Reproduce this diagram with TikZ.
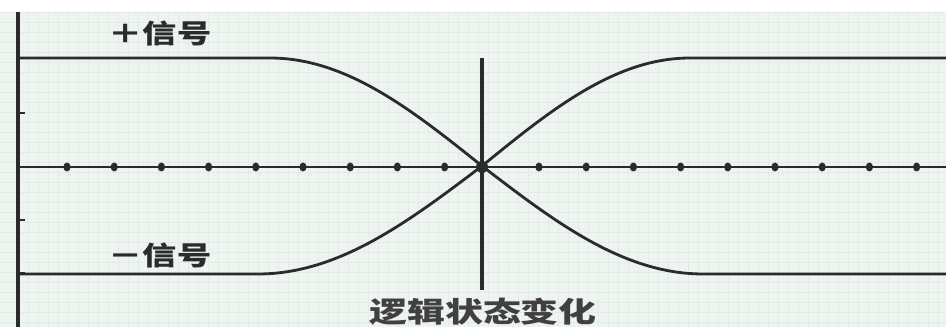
\documentclass[tikz,border=0pt]{standalone}
\usepackage{fontspec}
\newfontfamily\cjk{Noto Sans CJK SC}
\definecolor{bg}{HTML}{EEF4F0}
\definecolor{gridc}{HTML}{E2EBE5}
\definecolor{ink}{HTML}{2B2B2B}
\begin{document}
\begin{tikzpicture}[x=0.02cm,y=-0.02cm,
  curve/.style={ink,line width=1.6pt,line join=round},
  axisline/.style={ink,line width=1.7pt},
  tickdot/.style={ink},
  lbl/.style={font=\cjk\bfseries\fontsize{15}{15}\selectfont,text=ink,xscale=1.3,inner sep=0pt},
  captext/.style={font=\cjk\bfseries\fontsize{16}{16}\selectfont,text=ink!90,xscale=1.35,inner sep=0pt}]
\useasboundingbox (0,0) rectangle (946,327);
% background paper
\fill[white] (0,0) rectangle (946,327);
\fill[bg] (0,12) rectangle (946,327);
\foreach \gx in {18,28,...,946} \draw[gridc,line width=0.25pt] (\gx,12) -- (\gx,327);
\foreach \gy in {12,22,...,327} \draw[gridc,line width=0.25pt] (0,\gy) -- (946,\gy);
% left axis
\draw[axisline,line width=2pt] (18,12) -- (18,327);
\foreach \ty in {58,113,167,220,273} \draw[axisline,line width=1.4pt] (16,\ty) -- (25,\ty);
% horizontal axis
\draw[axisline] (18,167) -- (946,167);
\foreach \k in {0,...,8,10,11,...,18} \fill[tickdot] ({67+47.2*\k},167) ellipse [x radius=3.6,y radius=4.5];
\fill[tickdot] (482,167) circle [radius=6];
% center vertical line
\draw[axisline,line width=2.2pt] (482,58) -- (482,290);
% + signal (falling)
\draw[curve] (18,58) -- (270,58)
  -- plot[domain=270:482,samples=50] (\x,{166-108*cos((\x-270)*0.42453)})
  -- plot[domain=482:703,samples=50] (\x,{166+108*sin((\x-482)*0.40724)})
  -- (946,274);
% - signal (rising)
\draw[curve] (18,274) -- (258,274)
  -- plot[domain=258:482,samples=50] (\x,{166+108*cos((\x-258)*0.40179)})
  -- plot[domain=482:690,samples=50] (\x,{166-108*sin((\x-482)*0.43269)})
  -- (946,58);
% labels
\node[lbl] (plus) at (160,33) {＋信号};
\node[lbl] (minus) at (160,255) {－信号};
\node[captext] (state) at (483,312) {逻辑状态变化};
\end{tikzpicture}
\end{document}
